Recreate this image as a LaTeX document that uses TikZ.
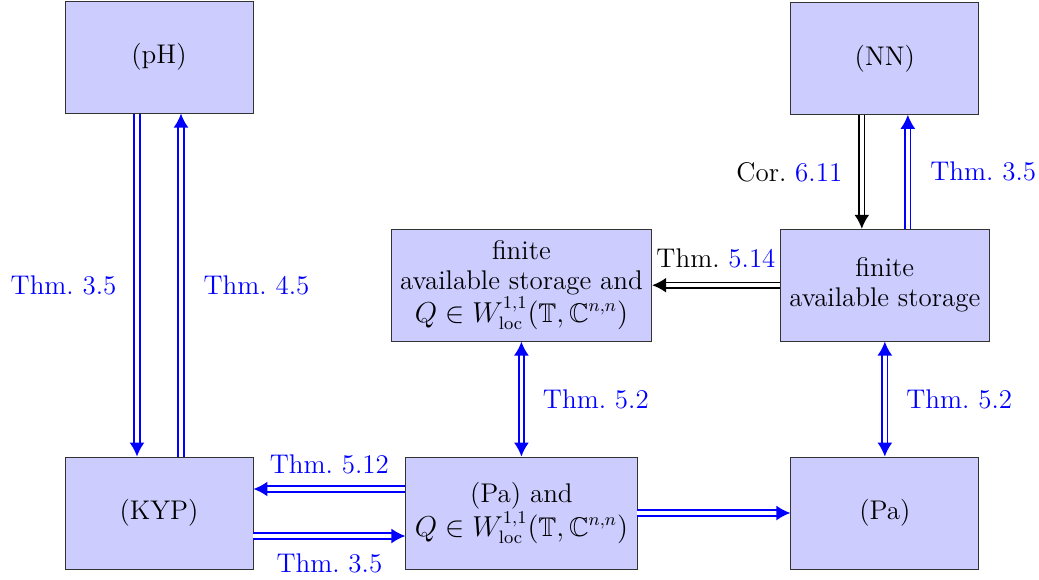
\documentclass[tikz,border=0pt]{standalone}
\usepackage{amsmath,amssymb}
\usepackage{xcolor}
\usetikzlibrary{arrows.meta,positioning}

\newcommand{\reflink}[1]{\textcolor{blue}{#1}}

\begin{document}
\begin{tikzpicture}[
  font=\fontsize{13.5pt}{15pt}\selectfont,
  prop/.style={draw=black!80, fill=blue!20, minimum width=94pt, minimum height=56pt,
    inner sep=4.5pt, align=center},
  impl/.style={double, double distance=1.8pt, line width=0.9pt,
    -{Latex[length=7pt,width=7.5pt]}},
  equiv/.style={impl, {Latex[length=7pt,width=7.5pt]}-{Latex[length=7pt,width=7.5pt]}},
  link/.style={draw=blue},
  lbl/.style={text=blue}
]
\useasboundingbox (-79.5pt,-33pt) rectangle (440pt,256.5pt);

\node[prop] (kyp) {(KYP)};
\node[prop, right=76pt of kyp] (paq) {(Pa) and\\$Q\in W^{1,1}_{\mathrm{loc}}(\mathbb{T},\mathbb{C}^{n,n})$};
\node[prop, right=76.5pt of paq] (pa) {(Pa)};
\node[prop, above=171.5pt of kyp] (ph) {(pH)};
\node[prop, above=57.5pt of paq] (fasq) {finite\\available storage and\\$Q\in W^{1,1}_{\mathrm{loc}}(\mathbb{T},\mathbb{C}^{n,n})$};
\node[prop, above=57.5pt of pa] (fas) {finite\\available storage};
\node[prop, above=57pt of fas] (nn) {(NN)};

% left column
\draw[impl, link] ([xshift=-11pt]ph.south) -- ([xshift=-11pt]kyp.north)
  node[midway, left=6.5pt, lbl] (l35a) {Thm.~3.5};
\draw[impl, link] ([xshift=11pt]kyp.north) -- ([xshift=11pt]ph.south)
  node[midway, right=7.5pt, lbl] (l45) {Thm.~4.5};

% right column
\draw[impl] ([xshift=-11.5pt]nn.south) -- ([xshift=-11.5pt]fas.north)
  node[midway, left=6pt] (l611) {Cor.~\reflink{6.11}};
\draw[impl, link] ([xshift=11.5pt]fas.north) -- ([xshift=11.5pt]nn.south)
  node[midway, right=7.5pt, lbl] (l35b) {Thm.~3.5};
\draw[impl] (fas) -- (fasq)
  node[midway, above=5pt] (l514) {Thm.~\reflink{5.14}};
\draw[equiv, link] (fasq) -- (paq)
  node[midway, right=7pt, lbl] (l52a) {Thm.~5.2};
\draw[equiv, link] (fas) -- (pa)
  node[midway, right=7pt, lbl] (l52b) {Thm.~5.2};

% bottom row
\draw[impl, link] ([yshift=12pt]paq.west) -- ([yshift=12pt]kyp.east)
  node[midway, above=3.5pt, lbl] (l512) {Thm.~5.12};
\draw[impl, link] ([yshift=-11.5pt]kyp.east) -- ([yshift=-11.5pt]paq.west)
  node[midway, below=5pt, lbl] (l35c) {Thm.~3.5};
\draw[impl, link] (paq) -- (pa);
\end{tikzpicture}
\end{document}
